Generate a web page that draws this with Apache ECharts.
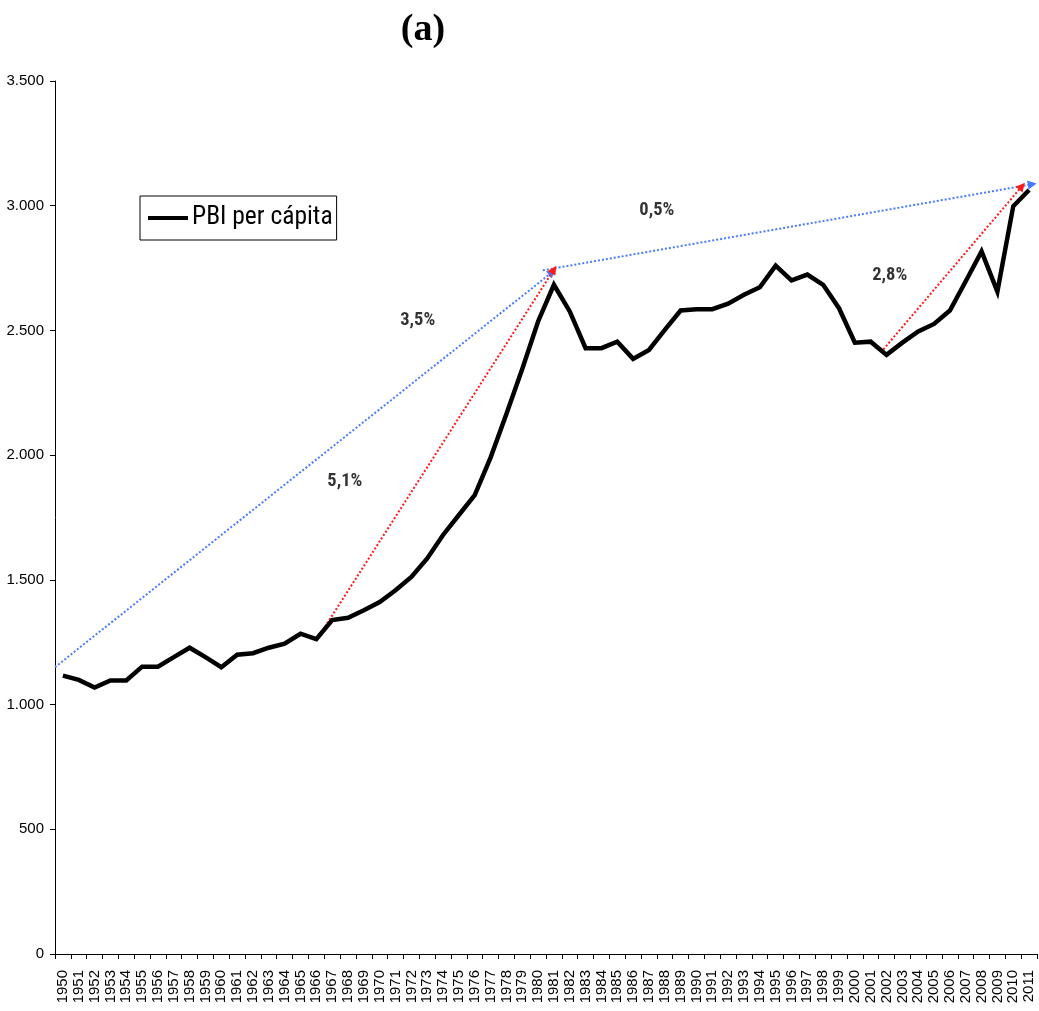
<!DOCTYPE html>
<html><head><meta charset="utf-8">
<script src="https://cdn.jsdelivr.net/npm/echarts@6/dist/echarts.min.js"></script>
<style>html,body{margin:0;padding:0;background:#fff}#c{width:1039px;height:1011px}</style>
</head><body><div id="c"></div>
<script>
const years = [];
for (let y = 1950; y <= 2011; y++) years.push(String(y));
const pbiPerCapita = [1116,1099,1068,1097,1097,1152,1152,1190,1228,1190,1150,1200,1206,1228,1244,1284,1262,1339,1348,1378,1411,1458,1512,1586,1680,1760,1840,1990,2165,2345,2536,2683,2576,2429,2429,2455,2386,2422,2502,2580,2585,2585,2607,2643,2673,2760,2701,2724,2683,2589,2451,2455,2402,2451,2496,2526,2580,2697,2817,2656,2998,3063];
const yTicks = [0,500,1000,1500,2000,2500,3000,3500];
// growth arrows: [startIndex, startValue, endIndex, endValue]
const blueArrows = [[-0.5,1150,30.9,2734],[30.3,2741,61.2,3086]];
const redArrows = [[16.0,1258,31.0,2744],[51.8,2424,60.55,3078]];
const growthLabels = [["0,5%",37.5,2980],["3,5%",22.4,2540],["5,1%",17.8,1895],["2,8%",52.2,2720]];

const chart = echarts.init(document.getElementById('c'));
const fmt = v => String(v).replace(/\B(?=(\d{3})+(?!\d))/g, '.');
const narrow = 'Roboto Condensed, Liberation Sans Narrow, Arial Narrow, sans-serif';
const arrowSeries = (arr, color) => ({
  type: 'lines', coordinateSystem: 'cartesian2d', xAxisIndex: 1, yAxisIndex: 0,
  symbol: ['none','triangle'], symbolSize: 9, silent: true, z: 1,
  lineStyle: {color: color, width: 2, type: [2,2], opacity: 1},
  data: arr.map(a => ({coords: [[a[0],a[1]],[a[2],a[3]]]}))
});
chart.setOption({
  animation: false,
  title: {text: '(a)', left: 418, top: 6, textAlign: 'center',
    textStyle: {fontFamily: 'Liberation Serif', fontWeight: 'bold', fontSize: 38, color: '#000'}},
  grid: {left: 55, right: 2, top: 81, bottom: 57, containLabel: false},
  legend: {left: 140, top: 196, padding: [9,4,9,8],
    borderColor: '#000', borderWidth: 1, itemWidth: 40, itemHeight: 14, itemGap: 4,
    data: [{name: 'PBI per cápita', icon: 'path://M0,5 L40,5 L40,9 L0,9 Z'}],
    textStyle: {fontFamily: narrow, fontSize: 25.5, color: '#000', padding: [0,0,0,-1]}},
  xAxis: [{type: 'category', data: years, boundaryGap: true,
    axisLine: {onZero: false, lineStyle: {color: '#000', width: 1}},
    axisTick: {show: true, length: 5, lineStyle: {color: '#000'}},
    axisLabel: {rotate: 90, interval: 0, fontSize: 15, color: '#000', margin: 16,
      fontFamily: 'Liberation Sans'}},
   {type: 'value', min: -0.5, max: 61.5, show: false}],
  yAxis: {type: 'value', min: 0, max: 3500, interval: 500,
    axisLine: {show: true, onZero: false, lineStyle: {color: '#000', width: 1}},
    axisTick: {show: true, length: 5, lineStyle: {color: '#000'}},
    splitLine: {show: false},
    axisLabel: {formatter: v => fmt(v), fontSize: 15, color: '#000', margin: 11,
      fontFamily: 'Liberation Sans'}},
  series: [
    {name: 'PBI per cápita', type: 'line', data: pbiPerCapita, symbol: 'none', z: 3,
      lineStyle: {color: '#000', width: 4.5, join: 'miter'}, itemStyle: {color: '#000'}},
    arrowSeries(blueArrows, '#4a7bff'),
    arrowSeries(redArrows, '#ff1a1a'),
    {type: 'scatter', xAxisIndex: 1, symbolSize: 1, silent: true, z: 4,
      itemStyle: {color: 'rgba(0,0,0,0)'},
      data: growthLabels.map(g => ({value: [g[1], g[2]], name: g[0]})),
      label: {show: true, position: 'inside', formatter: p => p.name, color: '#000',
        fontFamily: narrow, fontWeight: 'bold', fontSize: 18.5}}
  ]
});
</script></body></html>
